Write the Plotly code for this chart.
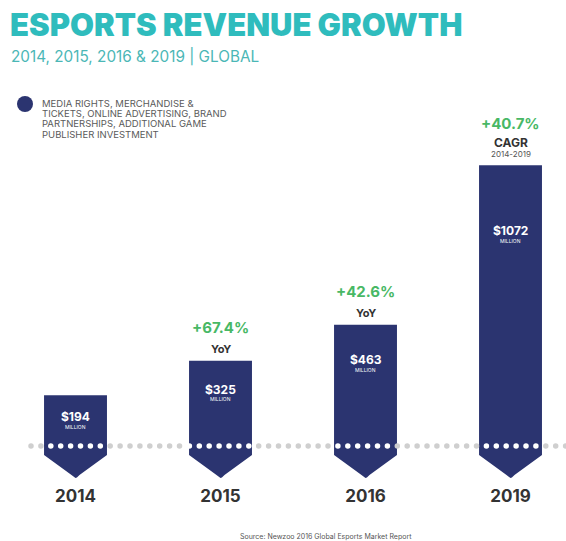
import plotly.graph_objects as go

# ---- data ----
years = ["2014", "2015", "2016", "2019"]
revenue = [194, 325, 463, 1072]          # $ million
growth_labels = ["", "+67.4%", "+42.6%", "+40.7%"]
growth_kind = ["", "YoY", "YoY", "CAGR"]
growth_note = ["", "", "", "2014-2019"]
legend_lines = [
    "MEDIA RIGHTS, MERCHANDISE &",
    "TICKETS, ONLINE ADVERTISING, BRAND",
    "PARTNERSHIPS, ADDITIONAL GAME",
    "PUBLISHER INVESTMENT",
]

# ---- styling ----
W, H = 566, 541
NAVY = "#2b3470"
GREEN = "#48b865"
TEAL = "#2fbcbd"
TEAL_LIGHT = "#4bb7b6"
DARK = "#333333"
GREY = "#555555"
FONT = "Inter"

BOTTOM_MARGIN = 61
PLOT_H = H - BOTTOM_MARGIN
BASE_PX = 446            # pixel row of the zero line
PX_PER_M = 0.262         # pixels per $ million
SLOT_PX = 145            # pixels between bar centres
FIRST_PX = 75.5          # pixel column of first bar centre
BAR_W = 0.434            # bar width in slot units

y_lo = (BASE_PX - PLOT_H) / PX_PER_M
y_hi = BASE_PX / PX_PER_M
x_lo = -FIRST_PX / SLOT_PX
x_hi = (W - FIRST_PX) / SLOT_PX


def px_to_x(px):
    return (px - FIRST_PX) / SLOT_PX


def dy(px):
    """vertical pixel distance -> data units"""
    return px / PX_PER_M


def pap_x(px):
    return px / W


def pap_y(py):
    return (PLOT_H - py) / PLOT_H


xs = list(range(len(years)))
fig = go.Figure()

# bar bodies
fig.add_trace(go.Bar(
    x=xs, y=revenue, width=BAR_W, marker=dict(color=NAVY, line=dict(width=0)),
    hoverinfo="skip", showlegend=False,
))

# arrow-head below the zero line for every bar
hw = BAR_W / 2
side = dy(9)
tip = dy(32)
tx = 4 / SLOT_PX
for c in xs:
    px_ = [c - hw, c - hw, c - tx, c - tx * 0.35, c, c + tx * 0.35, c + tx, c + hw, c + hw, c - hw]
    py_ = [2, -side, -tip + dy(2.9), -tip + dy(0.6), -tip, -tip + dy(0.6), -tip + dy(2.9), -side, 2, 2]
    fig.add_trace(go.Scatter(
        x=px_, y=py_, mode="lines", fill="toself", fillcolor=NAVY,
        line=dict(width=0, color=NAVY), hoverinfo="skip", showlegend=False,
    ))

# dotted zero line: white dots where it crosses a bar
dot_x, dot_c = [], []
p = 31.0
while p < W:
    x = px_to_x(p)
    inside = any(abs(x - c) <= hw for c in xs)
    dot_x.append(x)
    dot_c.append("#ffffff" if inside else "#cfcfcf")
    p += 9.9
fig.add_trace(go.Scatter(
    x=dot_x, y=[0] * len(dot_x), mode="markers",
    marker=dict(size=5.5, color=dot_c, line=dict(width=0)),
    hoverinfo="skip", showlegend=False, cliponaxis=False,
))

ann = []
# value labels inside bars
for c, v in zip(xs, revenue):
    drop = 12 + 0.05 * v
    ann.append(dict(x=c, y=v, yshift=-drop, text=f"<b>${v}</b>", showarrow=False,
                    font=dict(family=FONT, size=12, color="white"), yanchor="middle"))
    ann.append(dict(x=c, y=v, yshift=-drop - 10, text="MILLION", showarrow=False,
                    font=dict(family=FONT, size=5, color="white"), yanchor="middle"))

# growth labels above bars
for c, v, g, k, n in zip(xs, revenue, growth_labels, growth_kind, growth_note):
    if not g:
        continue
    top_gap = 33 if k == "YoY" else 42
    ann.append(dict(x=c, y=v, yshift=top_gap, text=f"<b>{g}</b>", showarrow=False,
                    font=dict(family=FONT, size=15, color=GREEN), yanchor="middle"))
    ann.append(dict(x=c, y=v, yshift=top_gap - 21 + (2 if k == "CAGR" else 0), text=f"<b>{k}</b>",
                    showarrow=False, font=dict(family=FONT, size=11 if k == "YoY" else 12, color=DARK),
                    yanchor="middle"))
    if n:
        ann.append(dict(x=c, y=v, yshift=top_gap - 31, text=n, showarrow=False,
                        font=dict(family=FONT, size=8, color=GREY), yanchor="middle"))

# title block
ann.append(dict(xref="paper", yref="paper", x=pap_x(8), y=pap_y(24), xanchor="left", yanchor="middle",
                text="ESPORTS REVENUE GROWTH", showarrow=False,
                font=dict(family=FONT, size=31, color=TEAL, weight=900)))
ann.append(dict(xref="paper", yref="paper", x=pap_x(9), y=pap_y(56), xanchor="left", yanchor="middle",
                text="2014, 2015, 2016 & 2019 | GLOBAL", showarrow=False,
                font=dict(family=FONT, size=15.3, color=TEAL_LIGHT)))

# legend text
for i, line in enumerate(legend_lines):
    ann.append(dict(xref="paper", yref="paper", x=pap_x(40), y=pap_y(103 + 10.5 * i),
                    xanchor="left", yanchor="middle", text=line, showarrow=False,
                    font=dict(family=FONT, size=9.5, color="#5a5a5a")))

# source
ann.append(dict(xref="paper", yref="paper", x=pap_x(326), y=pap_y(536), xanchor="center", yanchor="middle",
                text="Source: Newzoo 2016 Global Esports Market Report", showarrow=False,
                font=dict(family=FONT, size=7, color=GREY)))

shapes = [dict(type="circle", xref="paper", yref="paper",
               x0=pap_x(17), x1=pap_x(33), y0=pap_y(112), y1=pap_y(96),
               fillcolor=NAVY, line=dict(width=0))]

fig.update_layout(
    width=W, height=H,
    margin=dict(l=0, r=0, t=0, b=BOTTOM_MARGIN),
    paper_bgcolor="white", plot_bgcolor="white",
    showlegend=False,
    annotations=ann, shapes=shapes,
    xaxis=dict(range=[x_lo, x_hi], tickvals=xs, ticktext=years, showgrid=False, zeroline=False,
               showline=False, ticks="", tickfont=dict(family=FONT, size=17, color=DARK, weight=700),
               ticklabelstandoff=4, fixedrange=True),
    yaxis=dict(range=[y_lo, y_hi], showgrid=False, zeroline=False, showline=False,
               showticklabels=False, ticks="", fixedrange=True),
)

fig.write_html("out.html")
